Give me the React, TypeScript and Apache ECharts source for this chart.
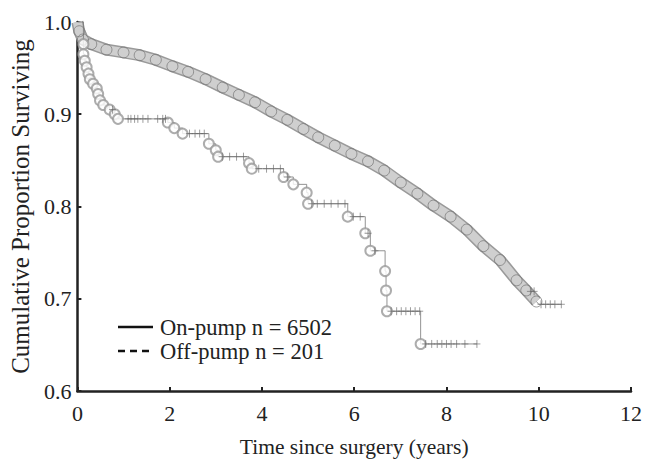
import React, { useEffect, useRef } from "react";
import * as echarts from "echarts";

// On-pump Kaplan-Meier estimate (years, survival)
const onPumpTimes = [0, 0.04, 0.12, 0.3, 0.63, 1.0, 1.35, 1.7, 2.06, 2.4, 2.78, 3.15, 3.5, 3.85, 4.2, 4.55, 4.9, 5.22, 5.58, 5.94, 6.3, 6.65, 7.01, 7.37, 7.72, 8.09, 8.44, 8.8, 9.16, 9.52, 9.73, 9.95];
const onPumpSurv = [1.0, 0.99, 0.981, 0.976, 0.97, 0.967, 0.964, 0.959, 0.952, 0.946, 0.938, 0.929, 0.921, 0.913, 0.903, 0.894, 0.884, 0.875, 0.866, 0.857, 0.849, 0.839, 0.826, 0.814, 0.801, 0.789, 0.775, 0.757, 0.742, 0.72, 0.709, 0.697];
const onPumpTailTimes = [9.95, 10.0, 10.49];
const onPumpTailSurv = [0.697, 0.694, 0.694];
const onPumpCensorTimes = [9.82, 9.9, 10.05, 10.15, 10.25, 10.35, 10.49];
const onPumpCensorSurv = [0.708, 0.708, 0.694, 0.694, 0.694, 0.694, 0.694];

// Off-pump events (years, survival after event)
const offPumpTimes = [0.13, 0.13, 0.16, 0.2, 0.24, 0.27, 0.34, 0.42, 0.45, 0.49, 0.56, 0.7, 0.81, 0.88, 1.96, 2.1, 2.28, 2.85, 3.0, 3.05, 3.72, 3.78, 4.47, 4.68, 4.97, 5.0, 5.86, 6.24, 6.35, 6.67, 6.69, 6.71, 7.44];
const offPumpSurv = [0.976, 0.965, 0.958, 0.951, 0.944, 0.938, 0.933, 0.928, 0.922, 0.915, 0.91, 0.905, 0.9, 0.895, 0.891, 0.885, 0.879, 0.868, 0.861, 0.854, 0.847, 0.841, 0.832, 0.824, 0.815, 0.803, 0.789, 0.771, 0.752, 0.73, 0.709, 0.6865, 0.651];
const offPumpEndTime = 8.66;
const offPumpCensorTimes = [0.76, 1.1, 1.16, 1.24, 1.31, 1.42, 1.53, 1.74, 1.85, 1.91, 2.43, 2.55, 2.65, 2.75, 3.14, 3.3, 3.45, 3.6, 3.93, 4.1, 4.25, 4.4, 4.55, 5.08, 5.2, 5.35, 5.5, 5.65, 5.8, 5.98, 6.13, 6.3, 6.45, 6.8, 6.92, 7.02, 7.12, 7.22, 7.32, 7.42, 7.55, 7.68, 7.8, 7.9, 8.0, 8.1, 8.22, 8.4, 8.66];
const offPumpCensorSurv = [0.905, 0.895, 0.895, 0.895, 0.895, 0.895, 0.895, 0.895, 0.895, 0.895, 0.879, 0.879, 0.879, 0.879, 0.854, 0.854, 0.854, 0.854, 0.841, 0.841, 0.841, 0.841, 0.832, 0.803, 0.803, 0.803, 0.803, 0.803, 0.803, 0.789, 0.789, 0.771, 0.752, 0.6865, 0.6865, 0.6865, 0.6865, 0.6865, 0.6865, 0.6865, 0.651, 0.651, 0.651, 0.651, 0.651, 0.651, 0.651, 0.651, 0.651];

const legendLabels = ["On-pump n = 6502", "Off-pump n = 201"];
const xTitle = "Time since surgery (years)";
const yTitle = "Cumulative Proportion Surviving";

const FONT = "'Liberation Serif', 'DejaVu Serif', serif";
const CROSS = "path://M4,0L4,8M0,4L8,4";

const zip = (a: number[], b: number[]) => a.map((v, i) => [v, b[i]]);

export default function App() {
  const ref = useRef<HTMLDivElement>(null);
  useEffect(() => {
    if (!ref.current) return;
    const chart = echarts.init(ref.current, null, { renderer: "svg" });
    const onPump = zip(onPumpTimes, onPumpSurv);
    const offLine = [[0, 1.0], ...zip(offPumpTimes, offPumpSurv), [offPumpEndTime, offPumpSurv[offPumpSurv.length - 1]]];
    chart.setOption({
      animation: false,
      backgroundColor: "#ffffff",
      grid: { left: 74, right: 13, top: 22, bottom: 64 },
      xAxis: {
        type: "value",
        min: 0,
        max: 12,
        interval: 2,
        name: xTitle,
        nameLocation: "middle",
        nameGap: 45,
        nameTextStyle: { fontFamily: FONT, fontSize: 21.5, color: "#222" },
        axisLine: { lineStyle: { color: "#222", width: 2.5 } },
        axisTick: { inside: true, length: 4, lineStyle: { color: "#222", width: 2 } },
        axisLabel: { fontFamily: FONT, fontSize: 22, color: "#222", margin: 11 },
        splitLine: { show: false },
      },
      yAxis: {
        type: "value",
        min: 0.6,
        max: 1.0,
        interval: 0.1,
        name: yTitle,
        nameLocation: "middle",
        nameGap: 42,
        nameTextStyle: { fontFamily: FONT, fontSize: 25, color: "#222" },
        axisLine: { show: true, lineStyle: { color: "#222", width: 2.5 } },
        axisTick: { show: true, inside: true, length: 4, lineStyle: { color: "#222", width: 2 } },
        axisLabel: { fontFamily: FONT, fontSize: 22, color: "#222", margin: 6, formatter: (v: number) => v.toFixed(1) },
        splitLine: { show: false },
      },
      series: [
        {
          type: "line",
          data: onPump,
          symbol: "none",
          lineStyle: { color: "#9a9a9a", width: 12 },
          z: 2,
        },
        {
          type: "line",
          data: onPump,
          symbol: "none",
          lineStyle: { color: "#cfcfcf", width: 9 },
          z: 3,
        },
        {
          type: "scatter",
          data: onPump.slice(1),
          symbol: "circle",
          symbolSize: 11,
          itemStyle: { color: "rgba(0,0,0,0)", borderColor: "#777", borderWidth: 0.9 },
          z: 4,
        },
        {
          type: "line",
          data: zip(onPumpTailTimes, onPumpTailSurv),
          symbol: "none",
          lineStyle: { color: "#777", width: 0.8 },
          z: 3,
        },
        {
          type: "scatter",
          data: zip(onPumpCensorTimes, onPumpCensorSurv),
          symbol: CROSS,
          symbolSize: [7, 8],
          itemStyle: { color: "none", borderColor: "#666", borderWidth: 0.8 },
          z: 5,
        },
        {
          type: "line",
          step: "end",
          data: offLine,
          symbol: "none",
          lineStyle: { color: "#777", width: 0.8 },
          z: 3,
        },
        {
          type: "scatter",
          data: zip(offPumpTimes, offPumpSurv),
          symbol: "emptyCircle",
          symbolSize: 10,
          itemStyle: { color: "#999", borderColor: "#888", borderWidth: 0.8 },
          z: 4,
        },
        {
          type: "scatter",
          data: zip(offPumpCensorTimes, offPumpCensorSurv),
          symbol: CROSS,
          symbolSize: [7, 8],
          itemStyle: { color: "none", borderColor: "#666", borderWidth: 0.8 },
          z: 5,
        },
      ],
      graphic: [
        { type: "line", shape: { x1: 118, y1: 327, x2: 153, y2: 327 }, style: { stroke: "#111", lineWidth: 2.5 } },
        { type: "line", shape: { x1: 118, y1: 351, x2: 153, y2: 351 }, style: { stroke: "#111", lineWidth: 2.5, lineDash: [7, 5] } },
        { type: "text", x: 160, y: 327, style: { text: legendLabels[0], fontFamily: FONT, fontSize: 22.5, fill: "#222", verticalAlign: "middle" } },
        { type: "text", x: 160, y: 351, style: { text: legendLabels[1], fontFamily: FONT, fontSize: 22.5, fill: "#222", verticalAlign: "middle" } },
      ],
    });
    return () => chart.dispose();
  }, []);
  return <div ref={ref} style={{ position: "fixed", left: 0, top: 0, width: 645, height: 463 }} />;
}
